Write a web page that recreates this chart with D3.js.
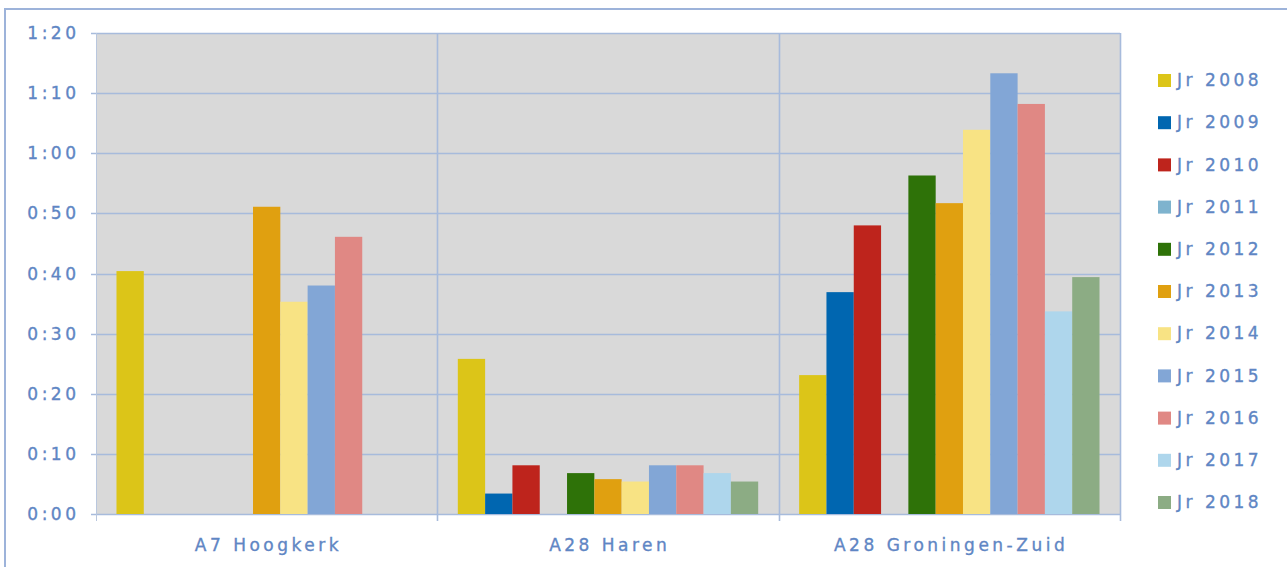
<!DOCTYPE html>
<html>
<head>
<meta charset="utf-8">
<script src="https://cdn.jsdelivr.net/npm/d3@7"></script>
<style>
  html, body { margin: 0; padding: 0; background: #fff; overflow: hidden; }
  svg { display: block; position: relative; }
  #frame {
    position: absolute; left: 4px; top: 8px; width: 1400px; height: 700px;
    border-left: 2px solid #9db3da; border-top: 2px solid #9db3da;
  }
</style>
</head>
<body>
<div id="frame"></div>
<svg id="chart" width="1287" height="567"></svg>
<script>
// Travel-time delay per location, one bar per year (minutes).

const locations = ["A7 Hoogkerk", "A28 Haren", "A28 Groningen-Zuid"];
const years = ["Jr 2008", "Jr 2009", "Jr 2010", "Jr 2011", "Jr 2012", "Jr 2013",
               "Jr 2014", "Jr 2015", "Jr 2016", "Jr 2017", "Jr 2018"];
const yearColors = ["#dcc518", "#0066b0", "#be241c", "#7eb3ce", "#2e7208", "#e0a010",
                    "#f8e384", "#82a6d6", "#e08884", "#aed6ec", "#8cac84"];

// minutes, null = no bar
const hoogkerk = [40.4, null, null, null, null, 51.1, 35.3, 38.0, 46.1, null, null];
const haren = [25.8, 3.4, 8.1, null, 6.8, 5.8, 5.4, 8.1, 8.1, 6.8, 5.4];
const groningenZuid = [23.1, 36.9, 48.0, null, 56.3, 51.7, 63.9, 73.3, 68.2, 33.7, 39.4];

const yTicks = [0, 10, 20, 30, 40, 50, 60, 70, 80];

const seriesByLocation = [hoogkerk, haren, groningenZuid];

const svg = d3.select("#chart");
const width = +svg.attr("width");
const height = +svg.attr("height");

const margin = { top: 33, right: 167, bottom: 53, left: 96 };
const innerWidth = width - margin.left - margin.right;
const innerHeight = height - margin.top - margin.bottom;

const gridColor = "#a7bbdc";
const textColor = "#5f86c4";
const font = "'DejaVu Sans', Verdana, sans-serif";

const g = svg.append("g")
  .attr("transform", `translate(${margin.left},${margin.top})`);

const x0 = d3.scaleBand()
  .domain(locations)
  .range([0, innerWidth])
  .padding(0);

const x1 = d3.scaleBand()
  .domain(years)
  .range([0, x0.bandwidth()])
  .paddingInner(0)
  .paddingOuter(0.75);

const y = d3.scaleLinear()
  .domain([0, 80])
  .range([innerHeight, 0]);

const color = d3.scaleOrdinal().domain(years).range(yearColors);

g.append("rect")
  .attr("width", innerWidth)
  .attr("height", innerHeight)
  .attr("fill", "#d9d9d9");

// horizontal gridlines
g.append("g")
  .selectAll("line")
  .data(yTicks)
  .join("line")
  .attr("x1", -5)
  .attr("x2", innerWidth)
  .attr("y1", d => Math.round(y(d)) + 0.5)
  .attr("y2", d => Math.round(y(d)) + 0.5)
  .attr("stroke", gridColor)
  .attr("stroke-width", 1.6);

// vertical category separators
const seps = locations.map(d => x0(d)).concat([innerWidth]);
g.append("g")
  .selectAll("line")
  .data(seps)
  .join("line")
  .attr("x1", d => Math.round(d) + 0.5)
  .attr("x2", d => Math.round(d) + 0.5)
  .attr("y1", 0)
  .attr("y2", innerHeight + 7)
  .attr("stroke", (d, i) => i === 0 ? "#b9c7de" : gridColor)
  .attr("stroke-width", (d, i) => i === 0 ? 1 : 1.6);

// bars
const rows = [];
locations.forEach((loc, li) => {
  years.forEach((yr, yi) => {
    const v = seriesByLocation[li][yi];
    if (v != null) rows.push({ loc, yr, v });
  });
});

g.append("g")
  .selectAll("rect")
  .data(rows)
  .join("rect")
  .attr("x", d => x0(d.loc) + x1(d.yr))
  .attr("y", d => y(d.v))
  .attr("width", x1.bandwidth())
  .attr("height", d => innerHeight - y(d.v))
  .attr("fill", d => color(d.yr));

function styleText(sel) {
  sel.attr("fill", textColor)
    .attr("stroke", textColor)
    .attr("stroke-width", 0.35)
    .attr("font-family", font)
    .attr("font-size", 17);
}

// the source font is set wide; stretch the spacing instead of letter-spacing
function spread(sel) {
  sel.each(function() {
    const n = this.textContent.length;
    const len = this.getComputedTextLength();
    d3.select(this)
      .attr("textLength", len + (n - 1) * 3.5)
      .attr("lengthAdjust", "spacing");
  });
}

// y axis labels
g.append("g")
  .selectAll("text")
  .data(yTicks)
  .join("text")
  .attr("x", -20)
  .attr("y", d => y(d))
  .attr("dy", "0.36em")
  .attr("text-anchor", "end")
  .call(styleText)
  .text(d => `${Math.floor(d / 60)}:${String(d % 60).padStart(2, "0")}`)
  .call(spread);

// x axis labels
g.append("g")
  .selectAll("text")
  .data(locations)
  .join("text")
  .attr("x", d => x0(d) + x0.bandwidth() / 2)
  .attr("y", innerHeight + 37)
  .attr("text-anchor", "middle")
  .call(styleText)
  .text(d => d)
  .call(spread);

// legend
const legend = svg.append("g")
  .attr("transform", "translate(1158,80)");

const item = legend.selectAll("g")
  .data(years)
  .join("g")
  .attr("transform", (d, i) => `translate(0,${i * 42.2})`);

item.append("rect")
  .attr("x", 0)
  .attr("y", -6)
  .attr("width", 13)
  .attr("height", 13)
  .attr("fill", d => color(d));

item.append("text")
  .attr("x", 19)
  .attr("y", 0)
  .attr("dy", "0.36em")
  .call(styleText)
  .text(d => d)
  .call(spread);
</script>
</body>
</html>
